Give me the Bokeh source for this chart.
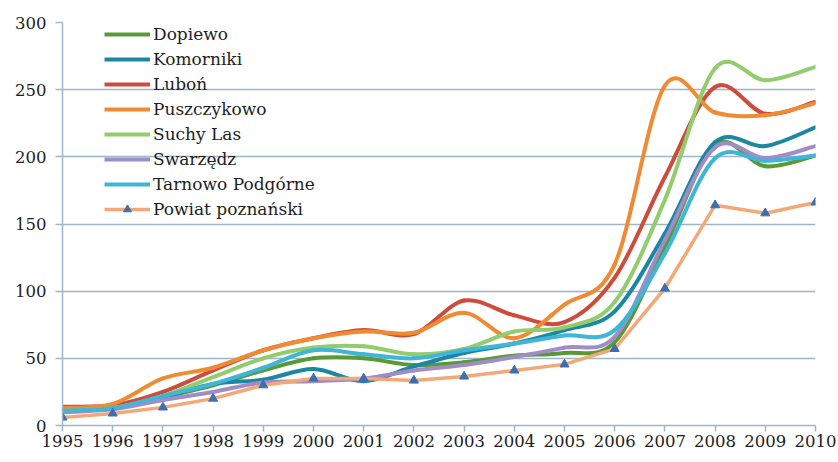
from bokeh.plotting import figure
from bokeh.models import Range1d, FixedTicker, Legend, LegendItem, ColumnDataSource
from bokeh.embed import file_html
from bokeh.resources import INLINE

years = list(range(1995, 2011))
dopiewo = [10, 13, 21, 30, 41, 50, 50, 45, 47, 52, 54, 62, 133, 209, 193, 201]
komorniki = [11, 13, 21, 31, 34, 42, 33, 44, 54, 61, 71, 85, 143, 211, 208, 222]
lubon = [14, 15, 25, 41, 56, 65, 71, 68, 93, 82, 77, 110, 185, 252, 232, 241]
puszczykowo = [13, 16, 35, 43, 56, 65, 70, 69, 84, 65, 90, 120, 253, 233, 231, 240]
suchy_las = [11, 13, 22, 36, 50, 58, 59, 53, 57, 70, 73, 92, 168, 266, 257, 267]
swarzedz = [10, 12, 19, 25, 32, 33, 35, 41, 45, 51, 58, 66, 138, 207, 199, 208]
tarnowo = [11, 13, 22, 31, 43, 56, 53, 50, 56, 61, 67, 71, 128, 199, 197, 201]
powiat = [6, 9, 13.5, 20, 30, 35, 35, 33.5, 36.5, 41, 45.5, 57, 102, 164, 158, 166]

names = ["Dopiewo", "Komorniki", "Luboń", "Puszczykowo", "Suchy Las", "Swarzędz",
         "Tarnowo Podgórne"]
series = [dopiewo, komorniki, lubon, puszczykowo, suchy_las, swarzedz, tarnowo]
colors = ["#5a9a36", "#1b87a2", "#cc4d3c", "#f08b33", "#92cc6c", "#a08cc6", "#3fb5d8"]
powiat_name = "Powiat poznański"
powiat_color = "#f3a878"
marker_color = "#3d6fb0"
y_ticks = [0, 50, 100, 150, 200, 250, 300]

grid_color = "#9db6ca"
text_color = "#1e1e1e"
font = "DejaVu Serif"
nan = float("nan")

p = figure(width=838, height=462, output_backend="svg", toolbar_location=None,
           x_range=Range1d(1995, 2010), y_range=Range1d(0, 300),
           min_border_left=62, min_border_right=23, min_border_top=22,
           min_border_bottom=37)
p.outline_line_color = None
p.background_fill_color = "white"

p.xgrid.grid_line_color = None
p.ygrid.grid_line_color = grid_color
p.ygrid.grid_line_width = 1.5
p.yaxis.ticker = FixedTicker(ticks=y_ticks)
p.xaxis.ticker = FixedTicker(ticks=years)

for ax in (p.xaxis, p.yaxis):
    ax.axis_line_color = grid_color
    ax.axis_line_width = 1.5
    ax.major_tick_line_color = grid_color
    ax.major_tick_line_width = 1.5
    ax.major_tick_in = 0
    ax.minor_tick_line_color = None
    ax.major_label_text_font = font
    ax.major_label_text_color = text_color
    ax.major_label_text_font_size = "16.5px"
p.yaxis.major_tick_out = 7
p.yaxis.major_label_standoff = 9
p.xaxis.major_tick_out = 6
p.xaxis.major_label_standoff = 3


def bezier_source(xs, ys):
    n = len(xs)
    d = {k: [] for k in ("x0", "y0", "x1", "y1", "cx0", "cy0", "cx1", "cy1")}
    for i in range(n - 1):
        im = i - 1 if i > 0 else i
        i2 = i + 2 if i + 2 < n else i + 1
        d["x0"].append(xs[i]); d["y0"].append(ys[i])
        d["x1"].append(xs[i + 1]); d["y1"].append(ys[i + 1])
        d["cx0"].append(xs[i] + (xs[i + 1] - xs[im]) / 6)
        d["cy0"].append(ys[i] + (ys[i + 1] - ys[im]) / 6)
        d["cx1"].append(xs[i + 1] - (xs[i2] - xs[i]) / 6)
        d["cy1"].append(ys[i + 1] - (ys[i2] - ys[i]) / 6)
    return ColumnDataSource(d)


items = []
for name, vals, col in zip(names, series, colors):
    src = bezier_source(years, vals)
    p.bezier(x0="x0", y0="y0", x1="x1", y1="y1", cx0="cx0", cy0="cy0",
             cx1="cx1", cy1="cy1", source=src, line_color=col, line_width=4,
             line_cap="round")
    dummy = p.line(x=[nan, nan], y=[nan, nan], line_color=col, line_width=4)
    items.append(LegendItem(label=name, renderers=[dummy]))

p.line(years, powiat, line_color=powiat_color, line_width=3.5, line_join="round")
p.scatter(years, powiat, marker="triangle", size=9, fill_color=marker_color,
          line_color=marker_color)
d1 = p.line(x=[nan, nan], y=[nan, nan], line_color=powiat_color, line_width=3.5)
d2 = p.scatter(x=[nan], y=[nan], marker="triangle", size=9,
               fill_color=marker_color, line_color=marker_color)
items.append(LegendItem(label=powiat_name, renderers=[d1, d2]))

legend = Legend(items=items, location=(42, 206), padding=0, margin=0,
                spacing=5, glyph_width=46, glyph_height=20, label_height=20,
                label_standoff=3, background_fill_alpha=0, border_line_alpha=0,
                label_text_font=font, label_text_font_size="17px",
                label_text_color=text_color)
p.add_layout(legend, "center")

open("out.html", "w").write(file_html(p, INLINE))
